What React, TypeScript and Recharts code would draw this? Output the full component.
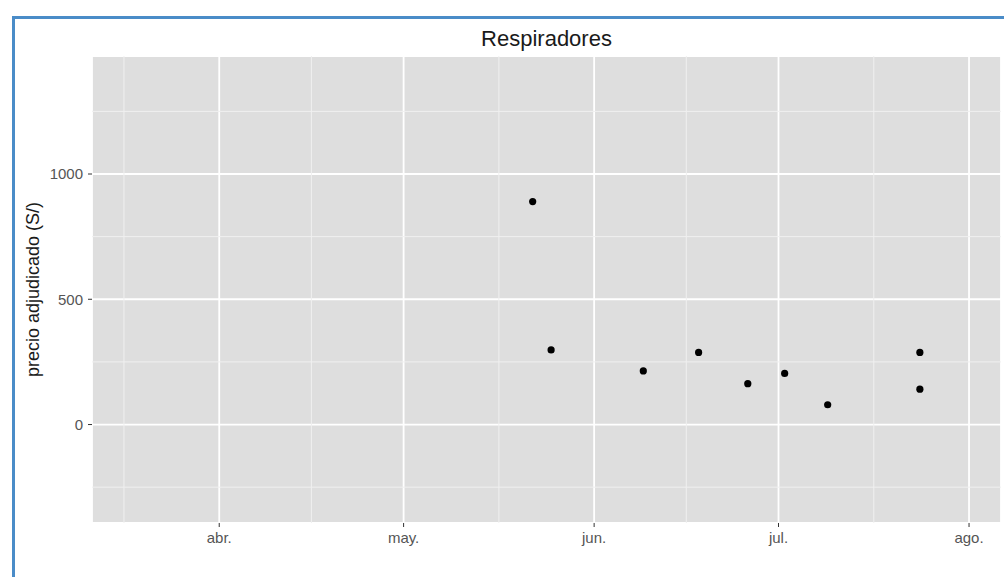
import {
  ScatterChart,
  Scatter,
  XAxis,
  YAxis,
  CartesianGrid,
  ReferenceLine
} from 'recharts';

const FECHAS = ['2020-05-22', '2020-05-25', '2020-06-09', '2020-06-18', '2020-06-26', '2020-07-02', '2020-07-09', '2020-07-24', '2020-07-24'];
const PRECIOS = [890, 298, 214, 288, 163, 204, 79, 288, 141];

const MESES = ['2020-04-01', '2020-05-01', '2020-06-01', '2020-07-01', '2020-08-01'];
const MESES_ETIQUETAS = ['abr.', 'may.', 'jun.', 'jul.', 'ago.'];
const Y_TICKS = [0, 500, 1000];
const Y_MENORES = [-250, 250, 750, 1250];

const toDay = (s: string) => {
  const [y, m, d] = s.split('-').map(Number);
  return Date.UTC(y, m - 1, d) / 86400000;
};

const MESES_DIAS = MESES.map(toDay);
// minor breaks sit halfway between month starts (march included)
const MESES_MENORES = [toDay('2020-03-01'), ...MESES_DIAS].slice(1).map((d, i, arr) => {
  const prev = i === 0 ? toDay('2020-03-01') : arr[i - 1];
  return (prev + d) / 2;
});

const data = FECHAS.map((f, i) => ({ x: toDay(f), y: PRECIOS[i] }));

const X_DOMAIN = [toDay('2020-04-01') - 20.7, toDay('2020-04-01') + 127.2];
const Y_DOMAIN = [-393, 1471];

const font = '"Liberation Sans", Arial, sans-serif';

export default function App() {
  return (
    <div style={{ position: 'absolute', left: 0, top: 0, width: 1004, height: 577, background: '#fff', overflow: 'hidden', fontFamily: font }}>
      <div style={{ position: 'absolute', left: 12, top: 16, width: 1020, height: 620, border: '3px solid #4a8cc8', boxSizing: 'border-box' }} />
      <div style={{ position: 'absolute', left: 92, width: 909, top: 27, textAlign: 'center', fontSize: 22, lineHeight: '24px', color: '#1a1a1a' }}>
        Respiradores
      </div>
      <div style={{ position: 'absolute', left: 0, top: 0 }}>
        <ScatterChart width={1004} height={577} margin={{ top: 56, right: 3, left: 40, bottom: 24 }}>
          <CartesianGrid fill="#dedede" fillOpacity={1} stroke="#ffffff" strokeWidth={1.8} />
          {Y_MENORES.map(v => (
            <ReferenceLine key={'y' + v} y={v} stroke="#f0f0f0" strokeWidth={1} ifOverflow="hidden" />
          ))}
          {MESES_MENORES.map(v => (
            <ReferenceLine key={'x' + v} x={v} stroke="#f0f0f0" strokeWidth={1} ifOverflow="hidden" />
          ))}
          <XAxis
            type="number"
            dataKey="x"
            domain={X_DOMAIN}
            ticks={MESES_DIAS}
            allowDataOverflow
            tickFormatter={(v: number) => MESES_ETIQUETAS[MESES_DIAS.indexOf(v)] ?? ''}
            axisLine={false}
            tickLine={{ stroke: '#333' }}
            tickSize={4}
            tickMargin={5}
            height={30}
            tick={{ fill: '#555', fontSize: 15 }}
          />
          <YAxis
            type="number"
            dataKey="y"
            domain={Y_DOMAIN}
            ticks={Y_TICKS}
            allowDataOverflow
            axisLine={false}
            tickLine={{ stroke: '#333' }}
            tickSize={4}
            tickMargin={5}
            width={52}
            tick={{ fill: '#555', fontSize: 15 }}
            label={{
              content: (props: any) => {
                const vb = props.viewBox || {};
                const cx = 33;
                const cy = (vb.y ?? 56) + (vb.height ?? 467) / 2;
                return (
                  <text x={cx} y={cy} transform={`rotate(-90 ${cx} ${cy})`} textAnchor="middle" dominantBaseline="central" fontSize={18} fill="#1a1a1a">
                    precio adjudicado (S/)
                  </text>
                );
              }
            }}
          />
          <Scatter
            data={data}
            isAnimationActive={false}
            shape={(p: any) => <circle cx={p.cx} cy={p.cy} r={3.6} fill="#000" />}
          />
        </ScatterChart>
      </div>
    </div>
  );
}
